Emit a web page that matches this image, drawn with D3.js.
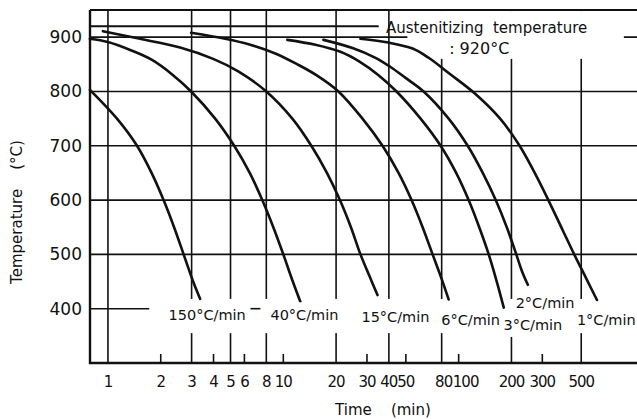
<!DOCTYPE html>
<html>
<head>
<meta charset="utf-8">
<script src="https://cdn.jsdelivr.net/npm/d3@7"></script>
<style>
  html, body { margin: 0; padding: 0; background: #fff; }
  svg { display: block; }
  text { font-family: "DejaVu Sans", sans-serif; fill: #111; }
</style>
</head>
<body>
<svg id="chart" width="637" height="419"></svg>
<script>
// Continuous cooling curves: time (min) vs temperature (°C)
const austenitizingTemp = 920;

const rate150 = [[0.789,803],[1.126,750],[1.465,700],[1.773,650],[2.076,600],[2.383,550],[2.701,500],[3.06,450],[3.356,418]];
const rate40  = [[0.789,897],[1.0,891],[1.371,875],[1.784,858],[2.352,830],[2.981,800],[4.087,750],[5.248,700],[6.435,650],[7.586,600],[8.769,550],[10.0,500],[11.33,450],[12.67,408]];
const rate15  = [[0.936,911],[1.524,897],[2.579,881],[3.981,860],[5.534,837],[8.0,800],[11.26,750],[14.45,700],[17.73,650],[21.03,600],[24.3,550],[27.54,500],[31.0,460],[34.45,425]];
const rate6   = [[2.981,908],[4.662,897],[6.478,886],[9.0,870],[12.02,850],[15.44,830],[20.62,800],[28.28,750],[36.79,700],[45.41,650],[53.87,600],[62.29,550],[71.02,500],[79.96,455],[87.67,417]];
const rate3   = [[10.54,895],[15.23,886],[21.17,873],[27.19,855],[34.91,830],[44.23,800],[60.66,750],[78.91,700],[96.76,650],[114.0,600],[131.0,550],[148.4,500],[164.9,450],[180.8,402]];
const rate2   = [[16.93,895],[24.8,880],[33.55,862],[40.87,845],[49.78,825],[63.1,800],[87.67,750],[112.6,700],[137.2,650],[162.7,600],[188.1,550],[213.1,500],[229.1,470],[248.0,444]];
const rate1   = [[27.54,897],[39.81,890],[54.6,879],[67.4,862],[87.67,834],[125.1,795],[172.4,750],[222.6,700],[271.5,650],[324.7,600],[391.4,545],[456.0,500],[535.3,455],[614.7,416]];

const curveNames = ["150°C/min", "40°C/min", "15°C/min", "6°C/min", "3°C/min", "2°C/min", "1°C/min"];
const curveData  = [rate150, rate40, rate15, rate6, rate3, rate2, rate1];
// label anchors (time, temperature) for each curve's label
const labelAnchors = [[3.68,388],[13.2,388],[43.6,385],[117,379],[265,370],[311,410],[695,379]];

const yTicks = [400, 500, 600, 700, 800, 900];
const xTickLabels = [1, 2, 3, 4, 5, 6, 8, 10, 20, 30, 40, 50, 80, 100, 200, 300, 500];
const xGridFull = [1];
const xGridBroken = [3, 5, 8, 20, 40, 80, 200, 500];
const xMinorTicks = [2, 4, 6, 10, 30, 50, 100, 300];
// short pieces of the 400 °C grid line left between the labels
const grid400Pieces = [[6.5, 7.4], [19.4, 20.8]];

const svg = d3.select("#chart");
const x = d3.scaleLog().domain([0.79, 1040]).range([90, 637]);
const y = d3.scaleLinear().domain([300, 950]).range([363, 10]);

const ink = "#111";

// horizontal grid
svg.append("g").selectAll("line").data(yTicks).join("line")
  .attr("x1", x(0.79)).attr("x2", x(1040))
  .attr("y1", d => y(d)).attr("y2", d => y(d))
  .attr("stroke", ink).attr("stroke-width", 1.6);

// vertical grid
svg.append("g").selectAll("line").data(xGridFull.concat(xGridBroken)).join("line")
  .attr("x1", d => x(d)).attr("x2", d => x(d))
  .attr("y1", y(950)).attr("y2", y(300))
  .attr("stroke", ink).attr("stroke-width", 1.6);

// austenitizing line
svg.append("line")
  .attr("x1", x(0.79)).attr("x2", x(35))
  .attr("y1", y(austenitizingTemp)).attr("y2", y(austenitizingTemp))
  .attr("stroke", ink).attr("stroke-width", 2);

// clear band behind the curve labels and the heading text
svg.append("rect")
  .attr("x", x(1.72)).attr("y", y(418))
  .attr("width", x(1040) - x(1.72)).attr("height", y(355) - y(418))
  .attr("fill", "#fff");
svg.append("rect")
  .attr("x", x(51)).attr("y", y(948))
  .attr("width", x(875) - x(51)).attr("height", y(860) - y(948))
  .attr("fill", "#fff");

svg.append("g").selectAll("line").data(grid400Pieces).join("line")
  .attr("x1", d => x(d[0])).attr("x2", d => x(d[1]))
  .attr("y1", y(400)).attr("y2", y(400))
  .attr("stroke", ink).attr("stroke-width", 1.6);

// label backgrounds (text measured first, then a padded white box behind it)
const labelG = svg.append("g");
const bgG = labelG.append("g");
const labels = labelG.append("g").selectAll("text").data(curveNames).join("text")
  .attr("x", (d, i) => x(labelAnchors[i][0]))
  .attr("y", (d, i) => y(labelAnchors[i][1]))
  .attr("text-anchor", "middle").attr("dominant-baseline", "central")
  .attr("font-size", 14.5)
  .text(d => d);
labels.each(function() {
  const b = this.getBBox();
  bgG.append("rect")
    .attr("x", b.x - 2).attr("y", b.y - 5)
    .attr("width", b.width + 4).attr("height", b.height + 9)
    .attr("fill", "#fff");
});

// minor ticks on the time axis
svg.append("g").selectAll("line").data(xMinorTicks).join("line")
  .attr("x1", d => x(d)).attr("x2", d => x(d))
  .attr("y1", y(300)).attr("y2", y(300) - 9)
  .attr("stroke", ink).attr("stroke-width", 1.6);

// frame: left, bottom, top
svg.append("line").attr("x1", x(0.79)).attr("x2", x(0.79)).attr("y1", y(950)).attr("y2", y(300) + 1)
  .attr("stroke", ink).attr("stroke-width", 2.4);
svg.append("line").attr("x1", x(0.78)).attr("x2", x(1040)).attr("y1", y(300)).attr("y2", y(300))
  .attr("stroke", ink).attr("stroke-width", 2.4);
svg.append("line").attr("x1", x(0.79)).attr("x2", x(1040)).attr("y1", y(950)).attr("y2", y(950))
  .attr("stroke", ink).attr("stroke-width", 2);

// cooling curves
const line = d3.line().x(d => x(d[0])).y(d => y(d[1])).curve(d3.curveCatmullRom.alpha(0.5));
svg.append("g").selectAll("path").data(curveData).join("path")
  .attr("d", line)
  .attr("fill", "none").attr("stroke", ink).attr("stroke-width", 2.6)
  .attr("stroke-linecap", "round").attr("stroke-linejoin", "round");

// keep label text above the curves
labelG.raise();

// heading text
svg.append("text").attr("x", x(38.5)).attr("y", y(900) - 9)
  .attr("font-size", 15).attr("dominant-baseline", "central")
  .attr("xml:space", "preserve")
  .text("Austenitizing  temperature");
svg.append("text").attr("x", x(131)).attr("y", y(900) + 11)
  .attr("font-size", 16).attr("text-anchor", "middle").attr("dominant-baseline", "central")
  .text(": " + austenitizingTemp + "°C");

// temperature axis labels
svg.append("g").selectAll("text").data(yTicks).join("text")
  .attr("x", 82).attr("y", d => y(d))
  .attr("text-anchor", "end").attr("dominant-baseline", "central")
  .attr("font-size", 17)
  .text(d => d);

// time axis labels (a few nudged apart where the decade is crowded)
const tickNudge = { 80: 2, 100: 7 };
svg.append("g").selectAll("text").data(xTickLabels).join("text")
  .attr("x", d => x(d) + (tickNudge[d] || 0)).attr("y", 382)
  .attr("text-anchor", "middle").attr("dominant-baseline", "central")
  .attr("font-size", 15).attr("letter-spacing", -1)
  .text(d => d);

// axis titles
svg.append("text").attr("x", 383).attr("y", 410)
  .attr("text-anchor", "middle").attr("dominant-baseline", "central")
  .attr("font-size", 15).attr("xml:space", "preserve")
  .text("Time    (min)");
svg.append("text")
  .attr("transform", "translate(17,212) rotate(-90)")
  .attr("text-anchor", "middle").attr("dominant-baseline", "central")
  .attr("font-size", 15).attr("xml:space", "preserve")
  .text("Temperature    (°C)");
</script>
</body>
</html>
